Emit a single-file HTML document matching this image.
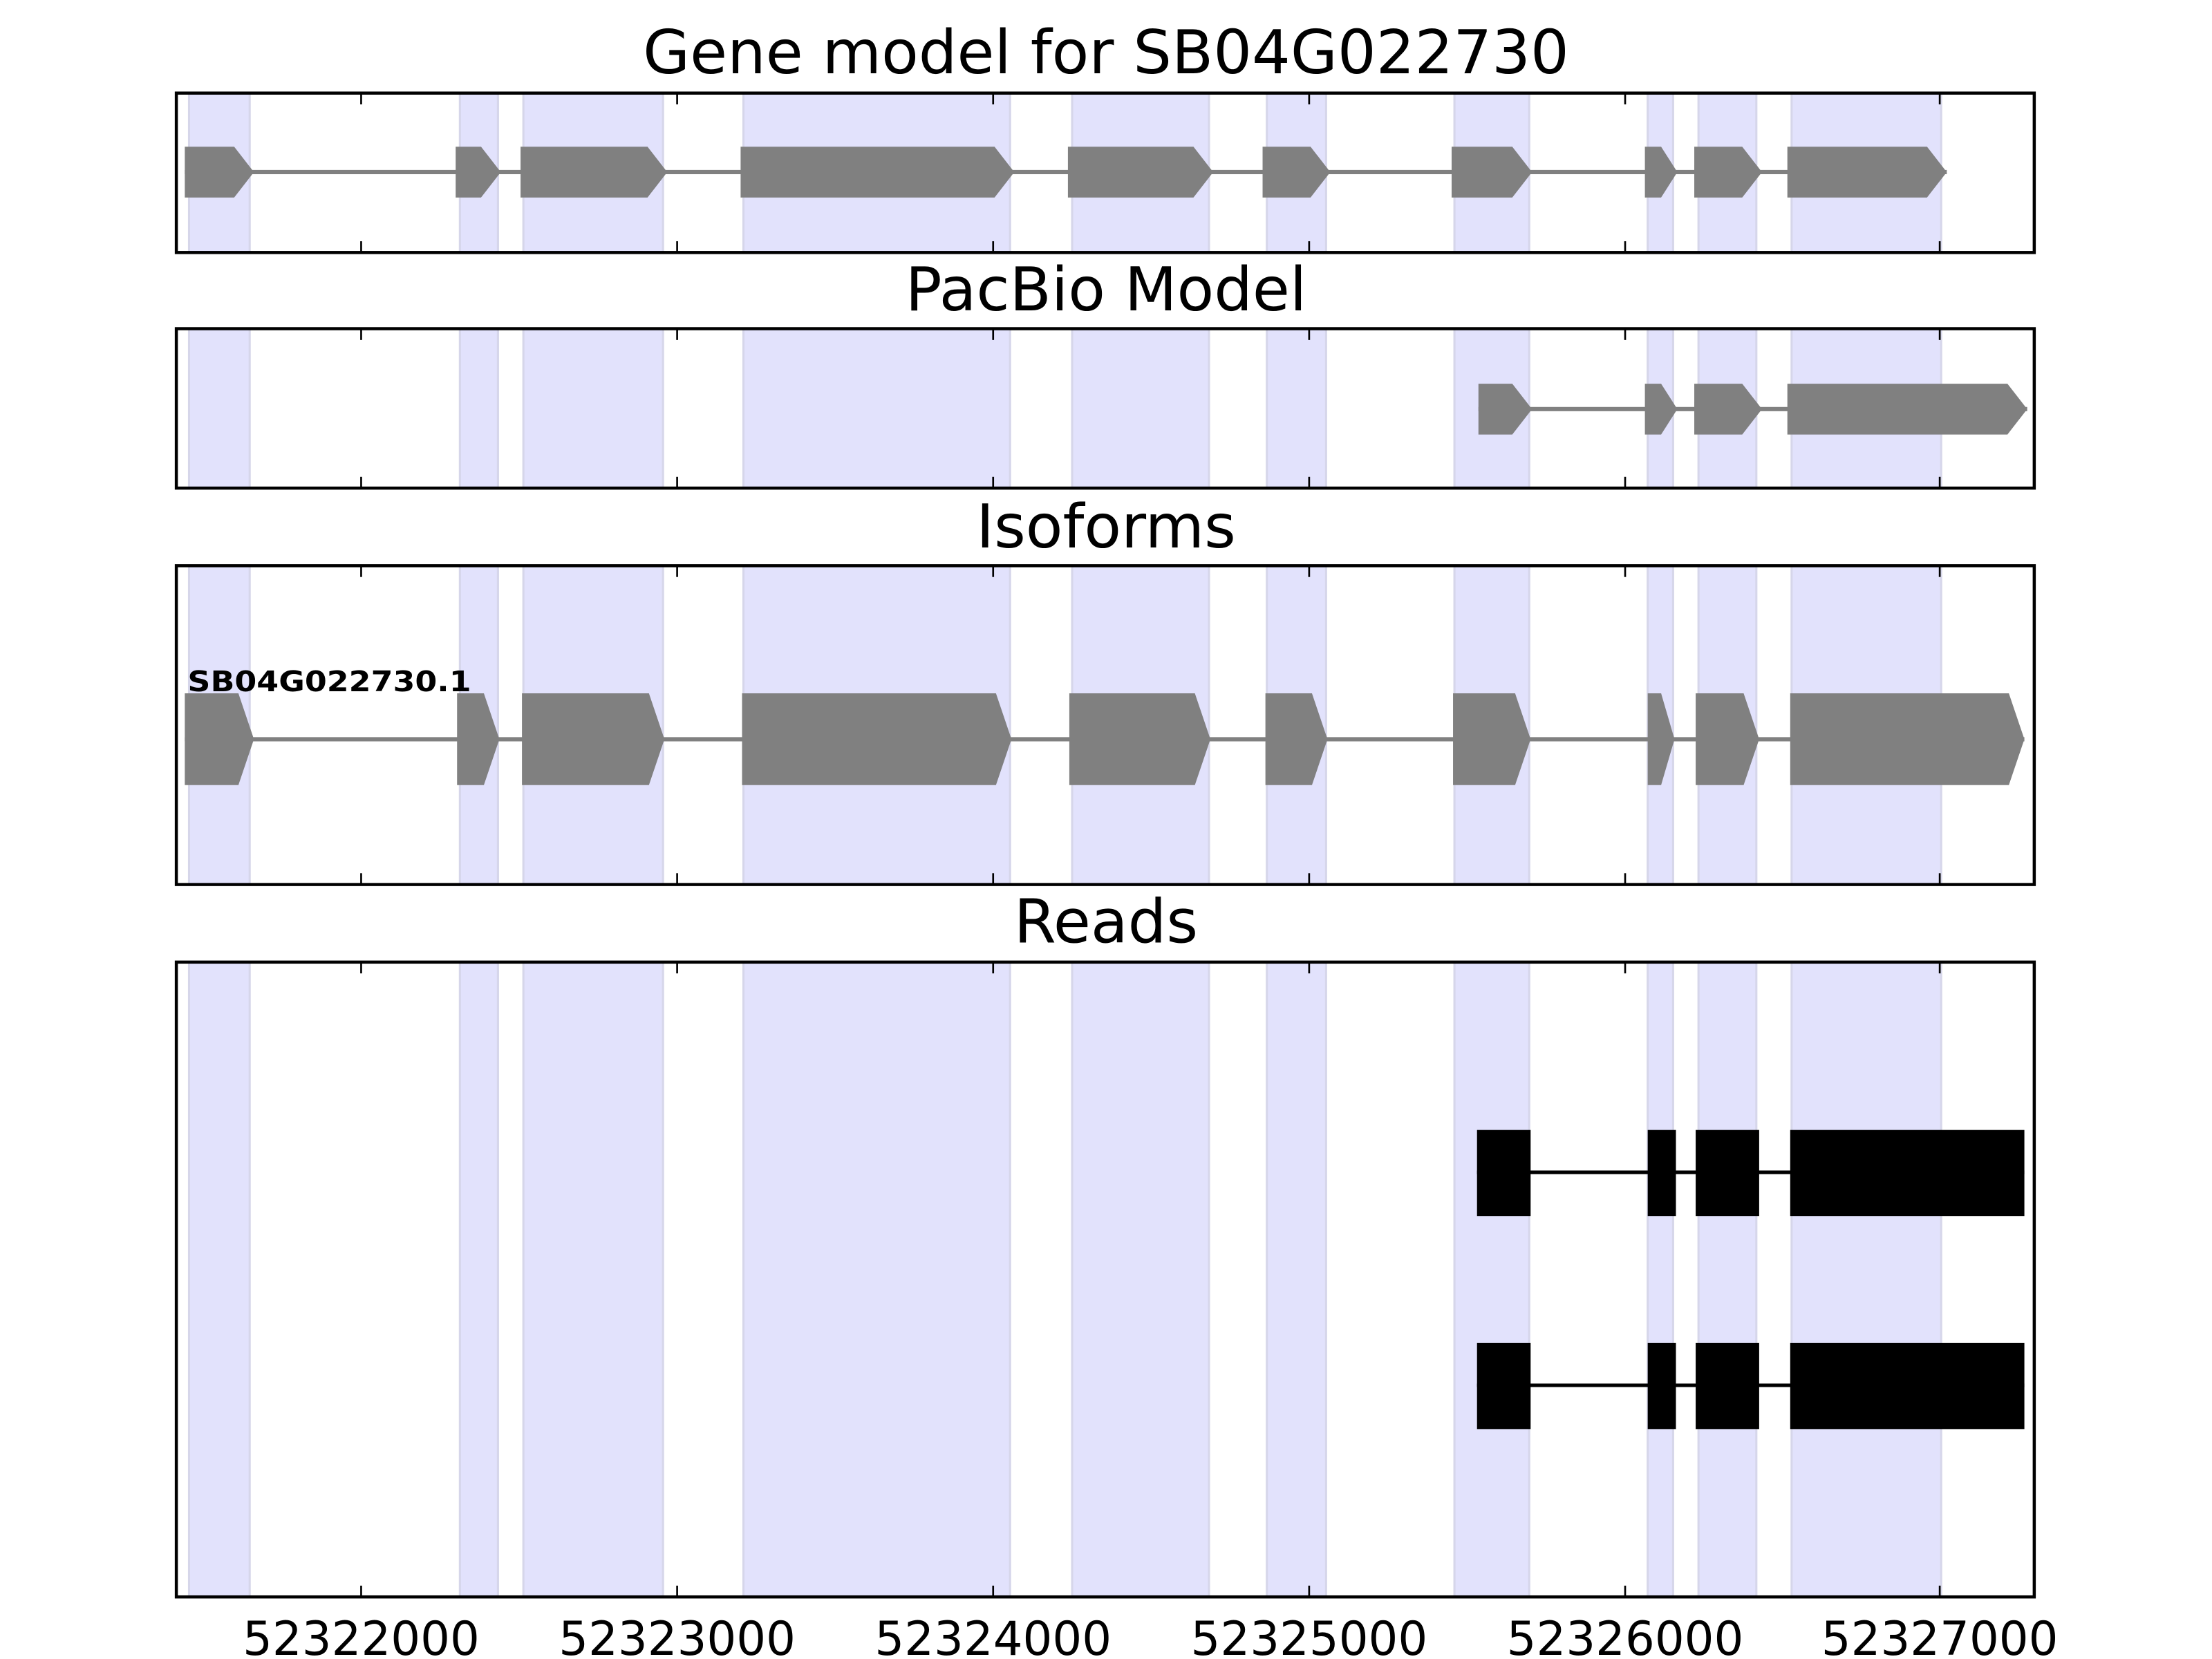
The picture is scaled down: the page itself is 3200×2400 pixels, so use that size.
<!DOCTYPE html>
<html><head><meta charset="utf-8"><style>html,body{margin:0;padding:0;background:#fff}svg{display:block}</style></head>
<body>
<svg width="3200" height="2400" viewBox="0 0 1568 1176" preserveAspectRatio="none" xmlns="http://www.w3.org/2000/svg" font-family="'DejaVu Sans','Liberation Sans',sans-serif">
<script>
const NS="http://www.w3.org/2000/svg";
const svg=document.querySelector('svg');
function el(t,a,p){const e=document.createElementNS(NS,t);for(const k in a)e.setAttribute(k,a[k]);(p||svg).appendChild(e);return e;}
const bands=[[134,177],[326,353],[371,470],[527,716],[760,857],[898,940],[1031,1084],[1168,1186],[1204,1245],[1270,1376]];
const ticks=[256,480,704,928,1152,1375];
const panels=[[66,179],[233,346],[401,627],[682,1132]];
const titles=[["Gene model for SB04G022730",52],["PacBio Model",220],["Isoforms",388],["Reads",668]];
panels.forEach((p,i)=>{
  const [y0,y1]=p;
  bands.forEach(b=>{
    el('rect',{x:b[0],y:y0,width:b[1]-b[0],height:y1-y0,fill:'#e2e2fc'});
    el('line',{x1:b[0],x2:b[0],y1:y0,y2:y1,stroke:'#d6d6ea','stroke-width':1.5});
    el('line',{x1:b[1],x2:b[1],y1:y0,y2:y1,stroke:'#d6d6ea','stroke-width':1.5});
  });
  const t=el('text',{x:784,y:titles[i][1],'font-size':43,'text-anchor':'middle',fill:'#000'});t.textContent=titles[i][0];
});
function gene(exons,cy,h,tip){
  el('line',{x1:exons[0][0],x2:exons[exons.length-1][1],y1:cy,y2:cy,stroke:'#808080','stroke-width':3});
  exons.forEach(e=>{
    const tw=Math.min(tip,(e[1]-e[0])/2);
    const a=e[0],b=e[1],t=cy-h/2,bo=cy+h/2;
    el('polygon',{points:`${a},${t} ${b-tw},${t} ${b},${cy} ${b-tw},${bo} ${a},${bo}`,fill:'#808080'});
  });
}
gene([[131,180],[323,355],[369,473],[525,719],[757,860],[895,943],[1029,1086],[1166,1189],[1201,1249],[1267,1380]],122,36,14);
gene([[1048,1086],[1166,1189],[1201,1249],[1267,1437]],290,36,14);
gene([[131,180],[324,354],[370,471],[526,717],[758,858],[897,941],[1030,1085],[1168,1187],[1202,1247],[1269,1435]],524,65,11);
const lab=el('text',{x:133,y:490,'font-size':20,'font-weight':'bold',textLength:201,lengthAdjust:'spacingAndGlyphs'});lab.textContent="SB04G022730.1";
[831,982].forEach(cy=>{
  el('line',{x1:1047,x2:1435,y1:cy,y2:cy,stroke:'#000','stroke-width':2.5});
  [[1047,1085],[1168,1188],[1202,1247],[1269,1435]].forEach(e=>el('rect',{x:e[0],y:cy-30,width:e[1]-e[0],height:61,fill:'#000'}));
});
panels.forEach(p=>{
  const [y0,y1]=p;
  ticks.forEach(x=>{
    el('line',{x1:x,x2:x,y1:y0,y2:y0+8,stroke:'#000','stroke-width':1.3});
    el('line',{x1:x,x2:x,y1:y1,y2:y1-8,stroke:'#000','stroke-width':1.3});
  });
  el('rect',{x:125,y:y0,width:1317,height:y1-y0,fill:'none',stroke:'#000','stroke-width':2.2});
});
["52322000","52323000","52324000","52325000","52326000","52327000"].forEach((s,i)=>{
  const t=el('text',{x:ticks[i],y:1173,'font-size':33,'text-anchor':'middle'});t.textContent=s;
});
</script>
</svg>
</body></html>
